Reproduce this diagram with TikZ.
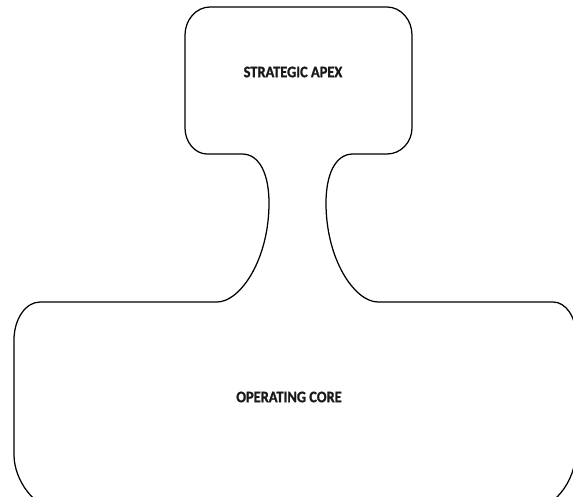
\documentclass[tikz,border=0pt]{standalone}
\usepackage{fontspec}
\newfontfamily\partfont[FakeStretch=0.9,FakeBold=1.2]{Carlito Bold}
\usepackage{tikz}
\usetikzlibrary{positioning}

\begin{document}
\begin{tikzpicture}[
    x=1pt, y=-1pt,
    outline/.style={
        draw=black, line width=1.25pt, line join=round,
    },
    part/.style={
        font=\fontsize{16}{19}\partfont,
        text=black!90, inner sep=0pt,
    },
]

% ── Page frame ──────────────────────────────────────────────────────────────
\useasboundingbox (0,0) rectangle (573,496);
\clip (0,0) rectangle (573,496);

% ── Outline: apex box, neck and core box in one path ────────────────────────
\draw[outline]
    % core, top left
    (40,302) .. controls (25.7,302) and (14,319) .. (14,340)
    -- (14,455) .. controls (14,480) and (35,510) .. (60,510)
    -- (530,510) .. controls (551,510) and (576,484) .. (576,450)
    -- (576,336) .. controls (576,317) and (566,302) .. (553,302)
    -- (378,302)
    % neck, right side
    .. controls (355,302) and (326,260) .. (326,203)
    .. controls (326,175) and (335,154) .. (353,154)
    % apex
    -- (387,154) .. controls (401,154) and (412,142) .. (412,128)
    -- (412,35) .. controls (412,20) and (401,7) .. (387,7)
    -- (210,7) .. controls (196,7) and (185,20) .. (185,35)
    -- (185,128) .. controls (185,142) and (195,154) .. (207,154)
    -- (242,154)
    % neck, left side
    .. controls (260,154) and (269,175) .. (269,203)
    .. controls (269,260) and (240,302) .. (217,302)
    -- cycle;

% ── Labels ──────────────────────────────────────────────────────────────────
\node[part] (apex) at (293,72)  {STRATEGIC APEX};
\node[part] (core) at (289,397) {OPERATING CORE};

\end{tikzpicture}
\end{document}
